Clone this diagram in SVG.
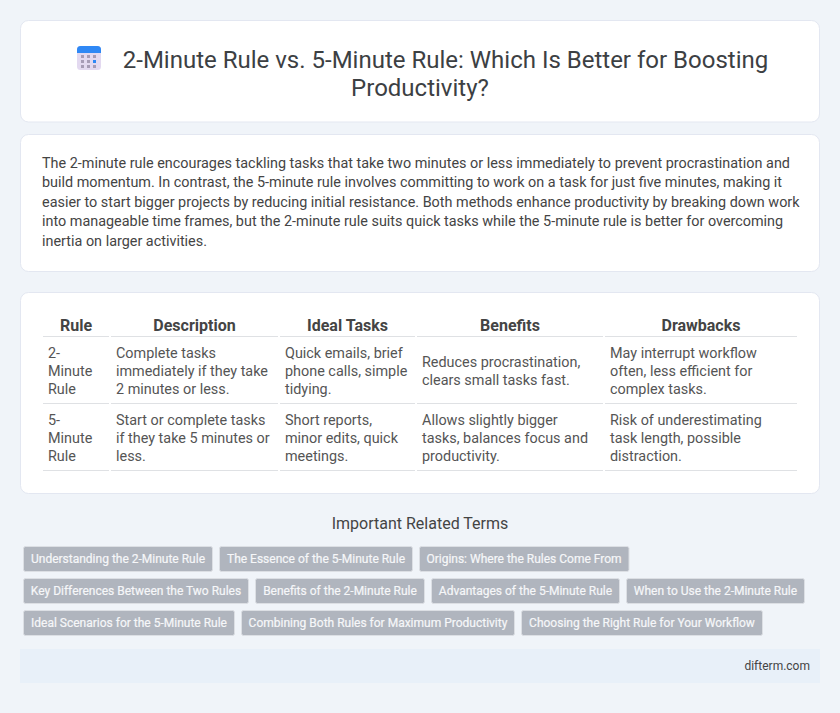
<svg xmlns="http://www.w3.org/2000/svg" width="840" height="713" viewBox="0 0 840 713">
<style>
text{font-family:Roboto,"Liberation Sans",sans-serif}
.card{fill:#fff;stroke:#e3e7f1;stroke-width:1}
.title{font-size:24px;fill:#3c4043;text-anchor:middle}
.p{font-size:14.4px;fill:#444}
.th{font-size:16px;font-weight:700;fill:#444;text-anchor:middle}
.td{font-size:14.4px;fill:#555}
.rule{fill:#dfe1e4}
.tag rect{fill:#b0b5be;stroke:#dcdfe4;stroke-width:1}
.tag text{font-size:12px;font-weight:400;fill:#f6f7f9;stroke:#f6f7f9;stroke-width:.2px;text-anchor:middle}
</style>
<rect width="840" height="713" fill="#f0f4f9"/>
<g id="header">
<rect class="card" x="20.5" y="20.5" width="799" height="101.500" rx="8"/>
<g id="icon">
<rect x="77" y="46" width="24" height="24" rx="3.500" fill="#e3d9f0"/>
<path d="M77 53V49.500a3.500 3.500 0 0 1 3.500-3.500h17a3.500 3.500 0 0 1 3.500 3.500V53z" fill="#2f88f5"/>
<g fill="#a79cb6"><rect x="81" y="55" width="3" height="3"/><rect x="87" y="55" width="3" height="3"/><rect x="93" y="55" width="3" height="3"/><rect x="81" y="60" width="3" height="3"/><rect x="87" y="60" width="3" height="3"/><rect x="81" y="65" width="3" height="3"/><rect x="87" y="65" width="3" height="3"/><rect x="93" y="65" width="3" height="3"/></g>
<rect x="93" y="60" width="3" height="3" fill="#2f88f5"/>
</g>
<text class="title" x="445.500" y="68">2-Minute Rule vs. 5-Minute Rule: Which Is Better for Boosting</text>
<text class="title" x="420" y="96">Productivity?</text>
</g>
<g id="summary">
<rect class="card" x="20.5" y="134.500" width="799" height="137" rx="8"/>
<text class="p" x="42" y="168">The 2-minute rule encourages tackling tasks that take two minutes or less immediately to prevent procrastination and</text>
<text class="p" x="42" y="187">build momentum. In contrast, the 5-minute rule involves committing to work on a task for just five minutes, making it</text>
<text class="p" x="42" y="207">easier to start bigger projects by reducing initial resistance. Both methods enhance productivity by breaking down work</text>
<text class="p" x="42" y="226">into manageable time frames, but the 2-minute rule suits quick tasks while the 5-minute rule is better for overcoming</text>
<text class="p" x="42" y="246">inertia on larger activities.</text>
</g>
<g id="table">
<rect class="card" x="20.5" y="292.500" width="799" height="201" rx="8"/>
<text class="th" x="76" y="331">Rule</text><text class="th" x="194.500" y="331">Description</text><text class="th" x="347.500" y="331">Ideal Tasks</text><text class="th" x="510" y="331">Benefits</text><text class="th" x="701" y="331">Drawbacks</text>
<g class="rule">
<rect x="43" y="336" width="66" height="1"/><rect x="111" y="336" width="167" height="1"/><rect x="280" y="336" width="135" height="1"/><rect x="417" y="336" width="186" height="1"/><rect x="605" y="336" width="192" height="1"/>
<rect x="43" y="403" width="66" height="1"/><rect x="111" y="403" width="167" height="1"/><rect x="280" y="403" width="135" height="1"/><rect x="417" y="403" width="186" height="1"/><rect x="605" y="403" width="192" height="1"/>
<rect x="43" y="470" width="66" height="1"/><rect x="111" y="470" width="167" height="1"/><rect x="280" y="470" width="135" height="1"/><rect x="417" y="470" width="186" height="1"/><rect x="605" y="470" width="192" height="1"/>
</g>
<text class="td" x="48" y="358">2-</text><text class="td" x="48" y="376">Minute</text><text class="td" x="48" y="394">Rule</text>
<text class="td" x="116" y="358">Complete tasks</text><text class="td" x="116" y="376">immediately if they take</text><text class="td" x="116" y="394">2 minutes or less.</text>
<text class="td" x="285" y="358">Quick emails, brief</text><text class="td" x="285" y="376">phone calls, simple</text><text class="td" x="285" y="394">tidying.</text>
<text class="td" x="422" y="367">Reduces procrastination,</text><text class="td" x="422" y="385">clears small tasks fast.</text>
<text class="td" x="610" y="358">May interrupt workflow</text><text class="td" x="610" y="376">often, less efficient for</text><text class="td" x="610" y="394">complex tasks.</text>
<text class="td" x="48" y="425">5-</text><text class="td" x="48" y="443">Minute</text><text class="td" x="48" y="461">Rule</text>
<text class="td" x="116" y="425">Start or complete tasks</text><text class="td" x="116" y="443">if they take 5 minutes or</text><text class="td" x="116" y="461">less.</text>
<text class="td" x="285" y="425">Short reports,</text><text class="td" x="285" y="443">minor edits, quick</text><text class="td" x="285" y="461">meetings.</text>
<text class="td" x="422" y="425">Allows slightly bigger</text><text class="td" x="422" y="443">tasks, balances focus and</text><text class="td" x="422" y="461">productivity.</text>
<text class="td" x="610" y="425">Risk of underestimating</text><text class="td" x="610" y="443">task length, possible</text><text class="td" x="610" y="461">distraction.</text>
</g>
<g id="related">
<text x="420" y="529" font-size="16" fill="#444" text-anchor="middle">Important Related Terms</text>
<g class="tag"><rect x="23.500" y="546.500" width="189" height="25" rx="2"/><text x="118" y="563">Understanding the 2-Minute Rule</text></g>
<g class="tag"><rect x="219.500" y="546.500" width="193" height="25" rx="2"/><text x="316" y="563">The Essence of the 5-Minute Rule</text></g>
<g class="tag"><rect x="419.500" y="546.500" width="209.500" height="25" rx="2"/><text x="524" y="563">Origins: Where the Rules Come From</text></g>
<g class="tag"><rect x="23.500" y="578.500" width="225" height="25" rx="2"/><text x="136" y="595">Key Differences Between the Two Rules</text></g>
<g class="tag"><rect x="255.500" y="578.500" width="169" height="25" rx="2"/><text x="340" y="595">Benefits of the 2-Minute Rule</text></g>
<g class="tag"><rect x="431.500" y="578.500" width="188" height="25" rx="2"/><text x="525.500" y="595">Advantages of the 5-Minute Rule</text></g>
<g class="tag"><rect x="626.500" y="578.500" width="178" height="25" rx="2"/><text x="715.500" y="595">When to Use the 2-Minute Rule</text></g>
<g class="tag"><rect x="23.500" y="610.500" width="211" height="25" rx="2"/><text x="129" y="627">Ideal Scenarios for the 5-Minute Rule</text></g>
<g class="tag"><rect x="241.500" y="610.500" width="273" height="25" rx="2"/><text x="378" y="627">Combining Both Rules for Maximum Productivity</text></g>
<g class="tag"><rect x="521.500" y="610.500" width="241" height="25" rx="2"/><text x="642" y="627">Choosing the Right Rule for Your Workflow</text></g>
</g>
<g id="footer">
<rect x="20" y="649" width="800" height="34" fill="#e8f0f9"/>
<text x="810" y="670" font-size="12" fill="#444" text-anchor="end">difterm.com</text>
</g>
</svg>
